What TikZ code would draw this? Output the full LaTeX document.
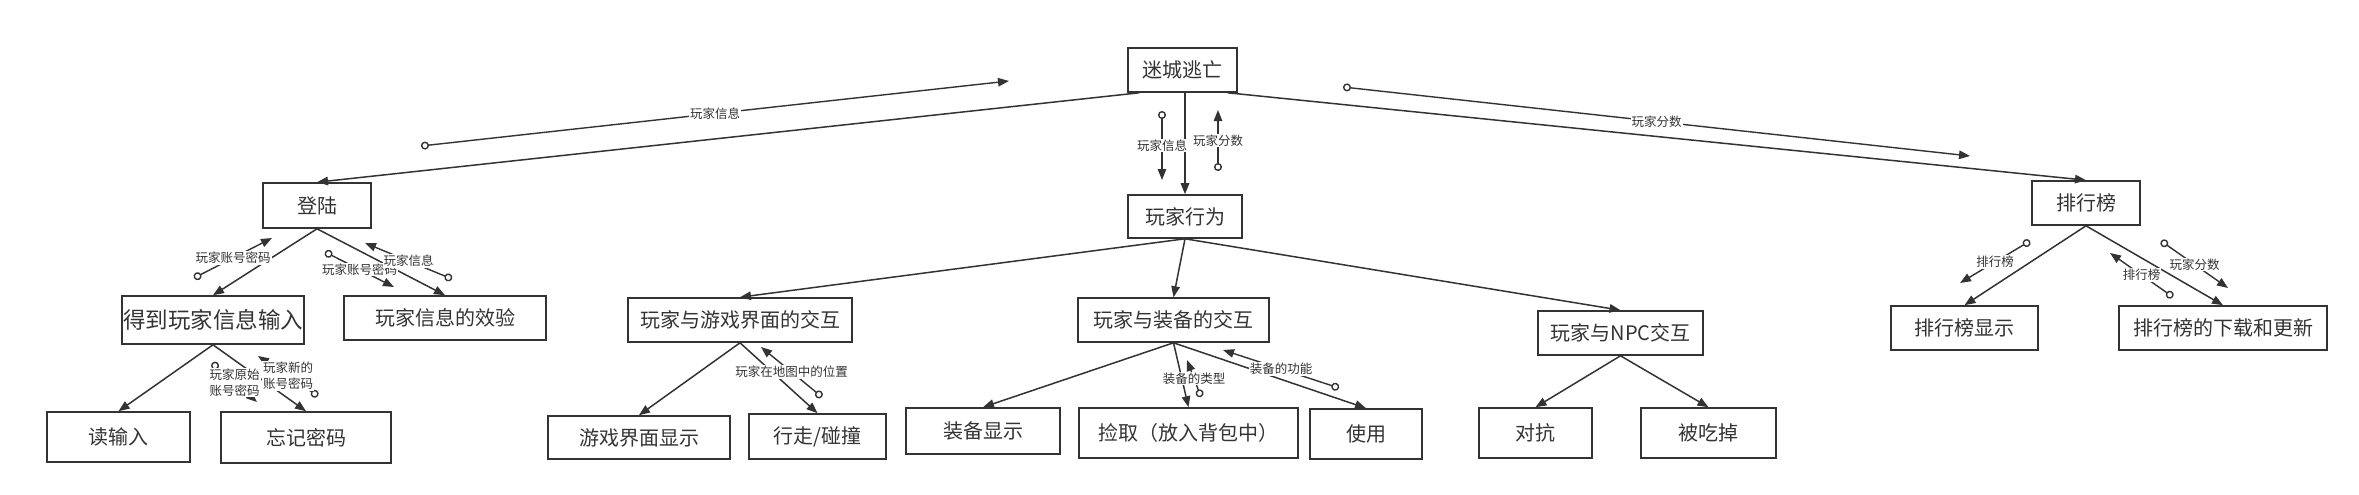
\documentclass[tikz,border=0pt]{standalone}
\usepackage{fontspec}
\newfontfamily\cjk{Noto Sans CJK SC}
\usetikzlibrary{arrows.meta}
\definecolor{ink}{HTML}{333333}
\begin{document}
\begin{tikzpicture}[x=1pt,y=-1pt,
  box/.style={draw=ink,line width=1.6pt,text=ink,inner sep=0pt,font=\cjk\fontsize{20}{24}\selectfont},
  wh/.style 2 args={minimum width=#1,minimum height=#2},
  edge/.style={draw=ink,line width=1.5pt,-{Triangle[length=11pt,width=8.5pt]}},
  flow/.style={draw=ink,line width=1.4pt,{Circle[open,length=8pt,width=8pt]}-{Triangle[length=11pt,width=8.5pt]}},
  lab/.style={fill=white,text=ink,inner sep=1pt,align=center,font=\cjk\fontsize{12.5}{16}\selectfont}]
\useasboundingbox (0,0) rectangle (2359,495);

\node[box,wh={109pt}{44pt}] (root) at (1182.5,70) {迷城逃亡};
\node[box,wh={114pt}{43pt}] (act) at (1185,216.5) {玩家行为};
\node[box,wh={108pt}{45pt}] (login) at (317,205.5) {登陆};
\node[box,wh={108pt}{44pt}] (rank) at (2086,203) {排行榜};

\node[box,wh={182pt}{48pt},font=\cjk\fontsize{22.5}{26}\selectfont] (input) at (213,320) {得到玩家信息输入};
\node[box,wh={202pt}{44pt}] (check) at (445,318) {玩家信息的效验};
\node[box,wh={143pt}{50pt}] (read) at (118.5,437) {读输入};
\node[box,wh={170pt}{51pt}] (forget) at (306,437.5) {忘记密码};

\node[box,wh={224pt}{44pt}] (ui) at (740,320) {玩家与游戏界面的交互};
\node[box,wh={182pt}{43pt}] (uishow) at (639,437.5) {游戏界面显示};
\node[box,wh={137pt}{45pt}] (walk) at (817.5,436.5) {行走/碰撞};

\node[box,wh={191pt}{44pt}] (equip) at (1173.5,320) {玩家与装备的交互};
\node[box,wh={154pt}{46pt}] (eqshow) at (983,431) {装备显示};
\node[box,wh={219pt}{50pt}] (pick) at (1188.5,433) {捡取（放入背包中）};
\node[box,wh={112pt}{50pt}] (use) at (1366,434) {使用};

\node[box,wh={165pt}{44pt}] (npc) at (1620.5,333) {玩家与NPC交互};
\node[box,wh={113pt}{50pt}] (fight) at (1535.5,433) {对抗};
\node[box,wh={135pt}{50pt}] (eaten) at (1708.5,433) {被吃掉};

\node[box,wh={147pt}{44pt}] (rshow) at (1964.5,328) {排行榜显示};
\node[box,wh={208pt}{44pt}] (rupd) at (2223,328) {排行榜的下载和更新};

\draw[edge] ([xshift=12pt]root.south west) -- (login.north);
\draw[edge] (root.south -| act.north) -- (act.north);
\draw[edge] ([xshift=-10pt]root.south east) -- (rank.north);

\draw[edge] (act.south) -- (ui.north);
\draw[edge] (act.south) -- (equip.north);
\draw[edge] (act.south) -- (npc.north);

\draw[edge] (login.south) -- (input.north);
\draw[edge] (login.south) -- (check.north);
\draw[edge] (input.south) -- (read.north);
\draw[edge] (input.south) -- (forget.north);

\draw[edge] (ui.south) -- (uishow.north);
\draw[edge] (ui.south) -- (walk.north);
\draw[edge] (equip.south) -- (eqshow.north);
\draw[edge] (equip.south) -- (pick.north);
\draw[edge] (equip.south) -- (use.north);
\draw[edge] (npc.south) -- (fight.north);
\draw[edge] (npc.south) -- (eaten.north);
\draw[edge] (rank.south) -- (rshow.north);
\draw[edge] (rank.south) -- (rupd.north);

\coordinate (info0) at (421,146);   \coordinate (info1) at (1009,81);
\coordinate (score0) at (1343,87);  \coordinate (score1) at (1970,156);
\coordinate (dinfo0) at (1162,111); \coordinate (dinfo1) at (1162,180);
\coordinate (uscore0) at (1218,171);\coordinate (uscore1) at (1218,110);
\coordinate (acc0) at (194,278);    \coordinate (acc1) at (272,238);
\coordinate (acc2) at (325,252);    \coordinate (acc3) at (394,287);
\coordinate (pinfo0) at (452,279);  \coordinate (pinfo1) at (365,243);
\coordinate (old0) at (212,363);    \coordinate (old1) at (257,402);
\coordinate (new0) at (318,396);    \coordinate (new1) at (258,356);
\coordinate (pos0) at (822,397);    \coordinate (pos1) at (761,347);
\coordinate (kind0) at (1201,397);  \coordinate (kind1) at (1187,360);
\coordinate (func0) at (1339,388);  \coordinate (func1) at (1223,350);
\coordinate (list0) at (2030,241);  \coordinate (list1) at (1960,283);
\coordinate (rsc0) at (2161,241);   \coordinate (rsc1) at (2228,288);
\coordinate (list2) at (2173,297);  \coordinate (list3) at (2110,253);

\draw[flow] (info0) -- (info1) node[lab,midway] {玩家信息};
\draw[flow] (score0) -- (score1) node[lab,midway] {玩家分数};
\draw[flow] (dinfo0) -- (dinfo1) node[lab,midway] {玩家信息};
\draw[flow] (uscore0) -- (uscore1) node[lab,midway] {玩家分数};
\draw[flow] (acc0) -- (acc1) node[lab,midway] {玩家账号密码};
\draw[flow] (acc2) -- (acc3) node[lab,midway] {玩家账号密码};
\draw[flow] (pinfo0) -- (pinfo1) node[lab,midway] {玩家信息};
\draw[flow] (old0) -- (old1) node[lab,midway] {玩家原始\\账号密码};
\draw[flow] (new0) -- (new1) node[lab,midway] {玩家新的\\账号密码};
\draw[flow] (pos0) -- (pos1) node[lab,midway] {玩家在地图中的位置};
\draw[flow] (kind0) -- (kind1) node[lab,midway] {装备的类型};
\draw[flow] (func0) -- (func1) node[lab,midway] {装备的功能};
\draw[flow] (list0) -- (list1) node[lab,midway] {排行榜};
\draw[flow] (rsc0) -- (rsc1) node[lab,midway] {玩家分数};
\draw[flow] (list2) -- (list3) node[lab,midway] {排行榜};

\end{tikzpicture}
\end{document}
